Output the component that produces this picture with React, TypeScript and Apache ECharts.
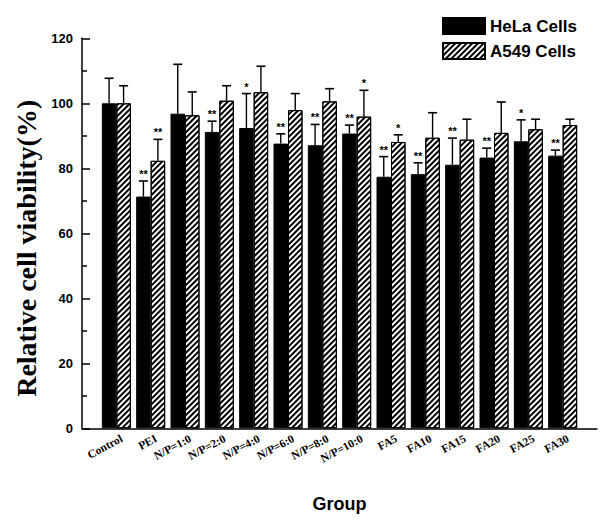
import React, { useEffect, useRef } from "react";
import * as echarts from "echarts";

const categories = ["Control", "PEI", "N/P=1:0", "N/P=2:0", "N/P=4:0", "N/P=6:0", "N/P=8:0", "N/P=10:0", "FA5", "FA10", "FA15", "FA20", "FA25", "FA30"];
const helaValues = [100, 71.3, 96.8, 91.2, 92.4, 87.6, 87.1, 90.7, 77.4, 78.2, 81.1, 83.3, 88.3, 83.9];
const helaErrors = [7.7, 4.8, 15.2, 3.3, 10.6, 3.0, 6.4, 2.6, 6.2, 3.5, 8.2, 2.9, 6.6, 1.7];
const helaStars = ["", "**", "", "**", "*", "**", "**", "**", "**", "**", "**", "**", "*", "**"];
const a549Values = [100, 82.3, 96.3, 100.8, 103.4, 97.9, 100.6, 95.9, 88.1, 89.4, 88.8, 90.9, 92, 93.3];
const a549Errors = [5.4, 6.6, 7.2, 4.6, 8.0, 5.1, 3.9, 8.1, 2.2, 7.7, 6.3, 9.5, 3.1, 1.8];
const a549Stars = ["", "**", "", "", "", "", "", "*", "*", "", "", "", "", ""];
const yTicks = [0, 20, 40, 60, 80, 100, 120];

const SANS = "'Liberation Sans', Arial, sans-serif";
const SERIF = "'Liberation Serif', 'Times New Roman', serif";
const BAR_W = 14.5;

export default function App() {
  const ref = useRef<HTMLDivElement>(null);
  useEffect(() => {
    if (!ref.current) return;
    const chart = echarts.init(ref.current, null, { renderer: "svg" });
    const axisCats = ["", ...categories, ""];
    const pad = (arr: number[]) => ["-", ...arr, "-"];

    const errSeries = (name: string, values: number[], errs: number[], stars: string[], offset: number) => ({
      type: "custom",
      name,
      z: 5,
      silent: true,
      data: values.map((v, i) => [i + 1, v, errs[i]]),
      renderItem: (params: any, api: any) => {
        const idx = api.value(0);
        const v = api.value(1);
        const e = api.value(2);
        const b = api.coord([idx, v]);
        const t = api.coord([idx, v + e]);
        const x = b[0] + offset;
        const star = stars[params.dataIndex];
        const children: any[] = [
          { type: "line", shape: { x1: x, y1: b[1], x2: x, y2: t[1] }, style: { stroke: "#000", lineWidth: 1.4 } },
          { type: "line", shape: { x1: x - 4.5, y1: t[1], x2: x + 4.5, y2: t[1] }, style: { stroke: "#000", lineWidth: 1.6 } },
        ];
        if (star) {
          children.push({
            type: "text",
            style: { text: star, x, y: t[1] - 7, align: "center", verticalAlign: "middle", font: `bold 11px ${SANS}`, fill: "#000" },
          });
        }
        return { type: "group", children };
      },
    });

    chart.setOption({
      animation: false,
      backgroundColor: "#fff",
      legend: {
        left: 437,
        top: 12,
        orient: "vertical",
        icon: "rect",
        itemWidth: 42,
        itemHeight: 16,
        itemGap: 7,
        data: ["HeLa Cells", "A549 Cells"],
        textStyle: { fontFamily: SANS, fontWeight: "bold", fontSize: 17, color: "#000" },
      },
      grid: { left: 82, right: 17, top: 38.3, bottom: 97.7 },
      xAxis: {
        type: "category",
        data: axisCats,
        boundaryGap: false,
        name: "Group",
        nameLocation: "middle",
        nameGap: 67,
        nameTextStyle: { fontFamily: SANS, fontWeight: "bold", fontSize: 18, color: "#000" },
        axisLine: { lineStyle: { color: "#000", width: 1.5 } },
        axisTick: { show: false },
        axisLabel: {
          interval: 0,
          rotate: 28,
          margin: 12,
          padding: [13, -6, 0, 0],
          fontFamily: SERIF,
          fontWeight: "bold",
          fontSize: 11.5,
          color: "#000",
        },
        splitLine: { show: false },
      },
      yAxis: {
        type: "value",
        min: 0,
        max: 120,
        interval: 20,
        name: "Relative cell viability(%)",
        nameLocation: "middle",
        nameGap: 42,
        nameTextStyle: { fontFamily: SERIF, fontWeight: "bold", fontSize: 28, color: "#000", padding: [0, 30, 0, 0] },
        axisLine: { show: true, lineStyle: { color: "#000", width: 1.5 } },
        axisTick: { show: true, inside: true, length: 8, lineStyle: { color: "#000", width: 1.5 } },
        minorTick: { show: true, splitNumber: 2, length: 5, lineStyle: { color: "#000", width: 1.5 } },
        axisLabel: {
          margin: 9,
          fontFamily: SANS,
          fontWeight: "bold",
          fontSize: 13,
          color: "#000",
          formatter: (v: number) => (yTicks.includes(v) ? String(v) : ""),
        },
        splitLine: { show: false },
      },
      series: [
        {
          type: "bar",
          name: "HeLa Cells",
          data: pad(helaValues),
          barWidth: BAR_W,
          barGap: "0%",
          itemStyle: { color: "#000", borderColor: "#000", borderWidth: 1 },
        },
        {
          type: "bar",
          name: "A549 Cells",
          data: pad(a549Values),
          barWidth: BAR_W,
          barGap: "0%",
          itemStyle: {
            color: "#fff",
            borderColor: "#000",
            borderWidth: 1,
            decal: {
              symbol: "rect",
              symbolSize: 1,
              color: "#000",
              backgroundColor: "#fff",
              dashArrayX: [1, 0],
              dashArrayY: [1.5, 2],
              rotation: -Math.PI / 4,
            },
          },
        },
        errSeries("hela-err", helaValues, helaErrors, helaStars, -BAR_W / 2),
        errSeries("a549-err", a549Values, a549Errors, a549Stars, BAR_W / 2),
      ],
    });
    return () => chart.dispose();
  }, []);
  return <div ref={ref} style={{ width: 614, height: 526, margin: -8 }} />;
}
